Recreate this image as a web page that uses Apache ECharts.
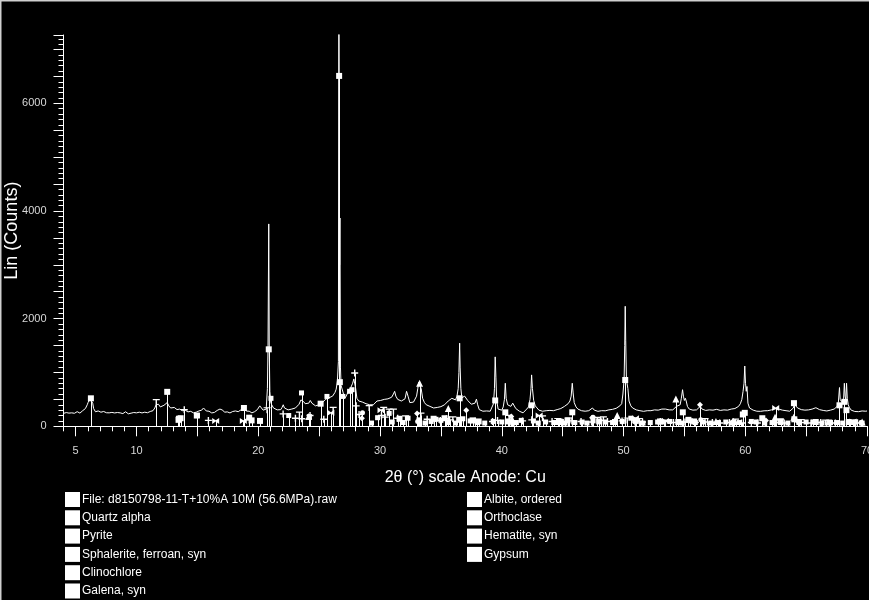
<!DOCTYPE html>
<html>
<head>
<meta charset="utf-8">
<style>
html,body{margin:0;padding:0;background:#000;}
#chart{width:869px;height:600px;}
</style>
<script src="https://cdn.jsdelivr.net/npm/echarts@6/dist/echarts.min.js"></script>
</head>
<body>
<div id="chart"></div>
<script>
// ---- Data ----
const fileName = 'File: d8150798-11-T+10%A 10M (56.6MPa).raw';
const xTickMajor = [5,10,15,20,25,30,35,40,45,50,55,60,65,70];
const xLabels = [5,10,20,30,40,50,60,70];
const yLabels = [0,2000,4000,6000];

// measured scan: [2theta, counts]
const scan = [
[4.000,240],[4.075,262],[4.150,238],[4.225,255],[4.300,230],[4.375,258],[4.450,245],[4.525,268],[4.600,235],[4.675,250],[4.750,232],[4.825,260],[4.900,242],[4.975,266],[5.050,248],[5.125,272],[5.200,250],[5.275,265],[5.350,245],[5.425,275],[5.500,260],[5.575,290],[5.650,282],[5.725,305],[5.800,330],[5.875,365],[5.950,400],[6.025,445],[6.100,470],[6.175,510],[6.250,520],[6.325,495],[6.400,430],[6.475,330],[6.550,300],[6.625,270],[6.700,295],[6.775,262],[6.850,285],[6.925,250],[7.000,276],[7.075,262],[7.150,290],[7.225,255],[7.300,275],[7.375,240],[7.450,268],[7.525,252],[7.600,236],[7.675,262],[7.750,250],[7.825,270],[7.900,245],[7.975,258],[8.050,235],[8.125,262],[8.200,248],[8.275,272],[8.350,240],[8.425,256],[8.500,238],[8.575,266],[8.650,250],[8.725,242],[8.800,268],[8.875,236],[8.950,258],[9.025,245],[9.100,270],[9.175,240],[9.250,255],[9.325,232],[9.400,262],[9.475,250],[9.550,244],[9.625,268],[9.700,238],[9.775,256],[9.850,246],[9.925,272],[10.000,250],[10.075,265],[10.150,240],[10.225,262],[10.300,235],[10.375,258],[10.450,248],[10.525,274],[10.600,244],[10.675,262],[10.750,240],[10.825,266],[10.900,252],[10.975,270],[11.050,248],[11.125,275],[11.200,262],[11.275,282],[11.350,290],
[11.50,340],[11.60,400],[11.70,430],[11.80,410],[11.95,360],[12.10,375],[12.25,390],[12.40,410],[12.52,440],[12.65,380],[12.80,340],[12.95,360],
[13.10,350],[13.175,325],[13.25,340],[13.325,310],[13.40,325],[13.475,300],[13.55,320],[13.625,295],[13.70,310],[13.775,290],[13.85,305],[13.925,282],[14.00,298],[14.075,276],[14.15,290],[14.225,268],[14.30,285],[14.375,262],[14.45,278],[14.525,255],[14.60,280],[14.675,250],[14.75,268],[14.825,248],[14.90,262],[14.975,280],[15.05,258],[15.125,285],[15.20,270],[15.275,295],[15.35,300],[15.425,330],[15.50,340],[15.575,310],[15.65,325],[15.725,285],[15.80,295],[15.875,262],[15.95,280],[16.025,250],[16.10,272],[16.175,248],[16.25,268],[16.325,278],[16.40,258],[16.475,290],[16.55,270],[16.625,295],[16.70,282],[16.775,305],[16.85,320],[16.925,340],[17.00,318],[17.075,300],[17.15,275],[17.225,262],[17.30,278],[17.375,250],[17.45,268],[17.525,245],[17.60,265],[17.675,248],[17.75,270],[17.825,255],[17.90,275],[17.975,252],[18.05,270],[18.125,285],[18.20,265],[18.275,290],[18.35,272],[18.425,298],[18.50,280],[18.575,305],[18.65,295],[18.725,320],[18.80,335],[18.875,318],[18.95,300],[19.025,282],[19.10,290],[19.175,268],[19.25,280],[19.325,255],[19.40,270],[19.475,250],[19.55,262],[19.625,248],[19.70,272],[19.775,265],[19.85,295],[19.925,310],[20.00,335],
[20.12,380],[20.25,350],[20.40,300],[20.55,280],[20.65,320],[20.75,700],[20.80,1500],[20.86,3760],[20.90,1450],[20.95,650],[21.02,450],[21.10,400],[21.25,340],[21.40,320],[21.55,305],[21.70,300],[21.85,310],[21.95,350],[22.05,400],[22.15,340],[22.30,310],[22.45,305],[22.60,315],[22.75,320],[22.90,330],[23.05,340],[23.20,370],[23.35,410],[23.50,490],[23.60,495],[23.72,460],[23.85,420],[24.00,400],[24.15,430],[24.27,480],[24.40,430],[24.55,400],[24.70,380],[24.85,370],[25.00,400],[25.12,435],[25.25,440],[25.40,465],[25.55,505],[25.65,525],[25.80,530],[25.95,545],[26.10,560],[26.20,585],[26.30,630],[26.40,690],[26.50,850],[26.58,1200],[26.62,8400],[26.68,3000],[26.71,3870],[26.75,1100],[26.80,760],[26.90,740],[27.00,600],[27.15,530],[27.30,600],[27.45,680],[27.60,720],[27.75,800],[27.85,880],[27.92,900],[28.00,700],[28.10,520],[28.25,470],[28.40,460],[28.55,450],[28.70,435],[28.85,420],[29.00,410],[29.15,400],[29.30,395],[29.45,400],[29.60,430],[29.75,470],[29.90,460],[30.05,480],[30.20,470],[30.35,500],[30.50,490],[30.65,510],[30.80,505],[30.95,540],[31.10,600],[31.20,650],[31.30,560],[31.45,500],[31.60,480],[31.75,470],[31.90,460],[32.05,510],[32.18,650],[32.30,560],[32.45,440],[32.60,430],[32.75,450],[32.90,470],[33.00,560],[33.10,700],[33.18,820],[33.28,790],[33.38,700],[33.50,520],[33.65,440],[33.80,400],[33.95,380],[34.10,370],[34.25,345],[34.40,340],[34.55,335],[34.70,350],[34.85,370],[35.00,365],[35.15,380],[35.30,400],[35.45,430],[35.60,470],[35.75,480],[35.90,520],[36.05,500],[36.20,490],[36.32,560],[36.42,700],[36.48,1000],[36.54,1545],[36.58,1100],[36.64,700],[36.72,530],[36.85,510],[36.95,560],[37.05,540],[37.20,480],[37.35,450],[37.50,410],[37.65,400],[37.80,430],[37.92,505],[38.02,400],[38.15,310],[38.30,290],[38.45,280],[38.60,275],[38.75,285],[38.90,270],[39.05,280],[39.20,300],[39.32,420],[39.40,700],[39.46,1290],[39.52,900],[39.58,480],[39.70,320],[39.85,285],[40.00,300],[40.12,360],[40.22,500],[40.29,800],[40.36,520],[40.48,400],[40.60,380],[40.75,370],[40.90,430],[41.00,420],[41.15,330],[41.30,300],[41.45,280],[41.60,260],[41.75,250],[41.90,270],[42.05,320],[42.20,360],[42.32,500],[42.40,700],[42.45,955],[42.52,700],[42.62,480],[42.75,380],[42.90,340],[43.05,300],[43.20,285],[43.35,280],[43.50,275],[43.65,290],[43.80,285],[43.95,295],[44.10,300],[44.25,290],[44.40,305],[44.55,310],[44.70,300],[44.85,330],[45.00,340],[45.15,370],[45.30,390],[45.45,420],[45.60,470],[45.70,560],[45.79,800],[45.86,620],[45.95,440],[46.10,360],[46.25,320],[46.40,305],[46.55,290],[46.70,285],[46.85,280],[47.00,278],[47.15,290],[47.30,310],[47.45,340],[47.60,300],[47.75,285],[47.90,278],[48.05,285],[48.20,290],[48.35,295],[48.50,288],[48.65,300],[48.80,305],[48.95,300],[49.10,315],[49.25,320],[49.40,335],[49.55,340],[49.70,380],[49.85,420],[49.95,600],[50.05,870],[50.10,1500],[50.14,2230],[50.18,1600],[50.24,870],[50.30,900],[50.36,700],[50.45,470],[50.60,380],[50.75,340],[50.90,320],[51.05,305],[51.20,295],[51.35,290],[51.50,285],[51.65,278],[51.80,280],[51.95,290],[52.10,295],[52.25,290],[52.40,300],[52.55,305],[52.70,310],[52.85,300],[53.00,315],[53.15,320],[53.30,335],[53.45,320],[53.60,310],[53.75,305],[53.90,295],[54.05,305],[54.20,330],[54.35,370],[54.50,380],[54.65,400],[54.75,520],[54.85,680],[54.92,560],[55.00,480],[55.08,520],[55.15,470],[55.25,370],[55.40,320],[55.55,305],[55.70,300],[55.85,295],[56.00,305],[56.15,330],[56.30,370],[56.45,320],[56.60,300],[56.75,295],[56.90,300],[57.05,305],[57.20,310],[57.35,300],[57.50,307],[57.65,315],[57.80,305],[57.95,295],[58.10,300],[58.25,305],[58.40,310],[58.55,300],[58.70,315],[58.85,320],[59.00,325],[59.15,330],[59.30,345],[59.45,370],[59.60,420],[59.72,500],[59.82,650],[59.90,800],[59.96,1120],[60.02,800],[60.08,650],[60.14,740],[60.22,430],[60.35,340],[60.50,310],[60.65,300],[60.80,285],[60.95,280],[61.10,285],[61.25,278],[61.40,290],[61.55,288],[61.70,295],[61.85,290],[62.00,300],[62.15,305],[62.30,310],[62.45,325],[62.60,340],[62.75,320],[62.90,305],[63.05,300],[63.20,295],[63.35,290],[63.50,285],[63.65,280],[63.80,300],[63.95,340],[64.05,430],[64.15,380],[64.30,340],[64.45,320],[64.60,310],[64.75,305],[64.90,300],[65.05,310],[65.20,305],[65.35,315],[65.50,320],[65.65,330],[65.80,345],[65.95,320],[66.10,310],[66.25,300],[66.40,295],[66.55,290],[66.70,285],[66.85,290],[67.00,300],[67.15,310],[67.30,320],[67.45,340],[67.55,370],[67.65,450],[67.74,720],[67.80,500],[67.90,460],[68.00,480],[68.08,520],[68.14,800],[68.20,560],[68.26,500],[68.32,800],[68.38,520],[68.46,400],[68.55,350],[68.70,300],[68.85,280],[69.00,275],[69.15,278],[69.30,272],[69.45,280],[69.60,285],[69.75,288],[69.90,280],[70.00,285]
];

// reference sticks per phase: [2theta, height]
const quartzSticks = [[20.86,1430],[26.64,6510],[26.70,820],[36.54,520],[39.46,480],[40.29,260],[42.45,390],[45.79,260],[50.14,860],[54.87,260],[55.33,120],[59.96,250],[64.03,130],[65.79,80],[67.74,390],[68.14,455],[68.31,300]];
const pyriteSticks = [[28.51,150],[33.04,240],[37.08,300],[40.78,180],[47.42,160],[56.28,400],[59.02,100],[61.70,110],[64.30,90]];
const sphaleriteSticks = [[28.56,250],[33.09,90],[47.50,170],[56.35,120],[59.10,60],[69.50,70]];
const clinochloreSticks = [[6.25,520],[12.52,640],[13.45,120],[13.62,150],[14.95,200],[18.82,340],[19.25,160],[19.45,110],[20.14,100],[25.12,420],[31.60,140],[34.40,140],[35.30,150],[36.50,120],[37.60,110],[38.10,90],[40.50,90],[44.70,80],[45.40,110],[48.00,90],[49.30,80],[51.00,100],[53.00,90],[54.50,80],[55.80,90],[59.80,220],[61.40,150],[62.90,90],[64.00,430],[66.90,70],[68.50,80]];
const galenaSticks = [[16.50,100],[18.77,100],[25.96,250],[30.08,300],[43.07,200],[50.98,150],[53.44,100],[62.50,338],[68.85,90]];
const albiteSticks = [[13.92,307],[15.90,110],[22.04,230],[23.05,150],[23.57,140],[24.25,200],[25.38,130],[27.92,990],[28.04,380],[28.28,220],[30.12,200],[30.42,170],[31.45,150],[33.87,130],[34.95,110],[35.45,140],[35.71,120],[36.68,110],[37.83,100],[39.24,90],[39.65,110],[41.71,100],[42.47,120],[44.13,90],[44.93,80],[45.76,100],[46.51,90],[47.38,80],[48.12,110],[48.68,90],[49.88,100],[50.94,80],[51.32,90],[51.56,80],[53.02,90],[54.10,70],[55.05,80],[55.90,70],[56.90,80],[57.30,70],[57.90,60],[58.70,70],[59.70,60],[60.50,70],[61.00,60],[62.40,70],[63.20,60],[64.60,70],[65.40,60],[66.20,70],[67.40,60],[68.60,70],[69.20,60]];
const orthoclaseSticks = [[13.44,150],[15.00,200],[21.04,520],[22.50,200],[23.55,620],[24.20,180],[25.64,555],[26.95,555],[27.50,650],[27.70,680],[29.30,60],[29.80,160],[30.75,240],[31.00,80],[31.90,70],[32.30,150],[33.20,120],[33.70,60],[34.20,90],[34.60,130],[35.00,110],[35.60,70],[36.20,60],[36.80,140],[37.40,100],[38.00,70],[38.60,60],[39.30,90],[40.00,80],[40.90,60],[41.20,70],[41.60,110],[42.60,100],[43.00,60],[43.60,80],[44.30,70],[44.90,90],[45.20,60],[46.00,70],[46.60,80],[47.00,60],[47.50,100],[48.50,80],[49.10,70],[49.90,90],[50.60,150],[51.00,120],[51.60,60],[52.20,70],[52.80,80],[53.30,80],[53.80,90],[54.80,60],[55.50,100],[55.90,70],[56.50,80],[57.20,60],[57.80,70],[58.40,80],[58.90,60],[59.50,70],[60.50,90],[60.90,80],[61.60,60],[62.20,70],[62.90,70],[63.50,60],[64.40,70],[65.00,80],[65.60,80],[66.30,60],[67.00,70],[67.50,70],[68.00,60],[68.90,70],[69.00,80],[69.60,60]];
const hematiteSticks = [[24.14,180],[33.25,800],[35.61,330],[40.85,130],[49.48,200],[54.30,505],[57.59,90],[62.45,170],[63.99,170],[69.60,80]];
const gypsumSticks = [[11.62,450],[20.72,300],[23.38,220],[26.15,307],[29.11,338],[30.30,307],[30.75,276],[31.10,276],[32.10,150],[33.36,200],[35.98,130],[40.60,160],[43.35,150],[44.60,100],[45.50,110],[47.85,120],[48.35,130],[50.30,110],[51.30,100],[56.70,100],[59.20,90],[62.90,90],[64.60,80],[66.60,70],[69.00,70]];

// ---- Chart ----
const W = '#ffffff';
const SYM = {
  square: 'rect',
  cross: 'path://M4,0H6V4H10V6H6V10H4V6H0V4H4Z',
  tee: 'path://M0,0H10V2H6V10H4V2H0Z',
  tri: 'triangle',
  bow: 'path://M0,0L5,4L10,0V10L5,6L0,10Z',
  dia: 'diamond',
  circ: 'circle'
};
function stickRender(params, api) {
  const top = api.coord([api.value(0), api.value(1)]);
  const base = api.coord([api.value(0), 0]);
  const x = Math.round(top[0]) + 0.5;
  return {type:'line', shape:{x1:x, y1:base[1], x2:x, y2:top[1]}, style:{stroke:W, lineWidth:1}};
}
function sticks(name, data, symbol, size) {
  return [
    {type:'custom', name:name, data:data, renderItem:stickRender, encode:{x:0, y:1}, itemStyle:{color:W}, silent:true, animation:false, z:2},
    {type:'scatter', name:name, data:data, symbol:symbol, symbolSize:size, itemStyle:{color:W, opacity:1}, silent:true, animation:false, z:3}
  ];
}
const phases = [
  ['Quartz alpha', quartzSticks, SYM.square, 6],
  ['Pyrite', pyriteSticks, SYM.dia, 6],
  ['Sphalerite, ferroan, syn', sphaleriteSticks, SYM.circ, 5],
  ['Clinochlore', clinochloreSticks, SYM.square, 6],
  ['Galena, syn', galenaSticks, SYM.bow, [7,6]],
  ['Albite, ordered', albiteSticks, SYM.cross, 7],
  ['Orthoclase', orthoclaseSticks, SYM.square, 5],
  ['Hematite, syn', hematiteSticks, SYM.tri, 7],
  ['Gypsum', gypsumSticks, SYM.tee, [7,6]]
];
let series = [{
  type:'line', name:fileName, data:scan, showSymbol:false, symbol:'none',
  lineStyle:{color:W, width:1}, itemStyle:{color:W}, clip:true, animation:false, z:4, silent:true
}];
phases.forEach(p => { series = series.concat(sticks(p[0], p[1], p[2], p[3])); });

const font = 'Arial, "Liberation Sans", sans-serif';
const legendCommon = {
  orient:'vertical', icon:'rect', itemWidth:15, itemHeight:15, itemGap:3.3, padding:0,
  selectedMode:false, itemStyle:{color:W, borderWidth:0},
  textStyle:{color:W, fontSize:12, fontFamily:font, padding:[4,0,0,-3]}
};
const chart = echarts.init(document.getElementById('chart'), null, {renderer:'canvas'});
chart.setOption({
  backgroundColor:'#000',
  animation:false,
  color:[W],
  grid:{left:63.5, right:2, top:35, bottom:173.7, containLabel:false, outerBoundsMode:'none'},
  legend:[
    Object.assign({left:65, top:492, height:108, data:[fileName,'Quartz alpha','Pyrite','Sphalerite, ferroan, syn','Clinochlore','Galena, syn']}, legendCommon),
    Object.assign({left:467, top:492, height:108, data:['Albite, ordered','Orthoclase','Hematite, syn','Gypsum']}, legendCommon)
  ],
  xAxis:[{
    type:'value', min:4, max:70, position:'bottom',
    name:'2θ (°) scale Anode: Cu', nameLocation:'middle', nameGap:43, nameMoveOverlap:false,
    nameTextStyle:{color:W, fontSize:16, fontFamily:font},
    axisLine:{show:true, lineStyle:{color:W, width:1}},
    axisTick:{show:true, customValues:xTickMajor, length:10, lineStyle:{color:W}},
    axisLabel:{customValues:xLabels, color:'#d8d8d8', fontSize:11, fontFamily:font, margin:19, formatter:v => String(v)},
    splitLine:{show:false}
  },{
    type:'value', min:4, max:70, interval:1, position:'bottom', offset:0,
    axisLine:{show:false}, axisLabel:{show:false},
    axisTick:{show:true, length:5, lineStyle:{color:W}},
    splitLine:{show:false}
  }],
  yAxis:{
    type:'value', min:0, max:7270, interval:500,
    name:'Lin (Counts)', nameLocation:'middle', nameGap:42, nameRotate:90, nameMoveOverlap:false,
    nameTextStyle:{color:W, fontSize:18, fontFamily:font},
    axisLine:{show:true, lineStyle:{color:W, width:1}},
    axisTick:{show:true, length:10, lineStyle:{color:W}},
    minorTick:{show:true, splitNumber:5, length:5, lineStyle:{color:W}},
    axisLabel:{customValues:yLabels, color:'#d8d8d8', fontSize:11, fontFamily:font, margin:17, formatter:v => String(v)},
    splitLine:{show:false}, minorSplitLine:{show:false}
  },
  graphic:[
    {type:'rect', shape:{x:0, y:0, width:869, height:1.5}, style:{fill:'#cfcfcf'}, silent:true},
    {type:'rect', shape:{x:0, y:0, width:1.5, height:600}, style:{fill:'#cfcfcf'}, silent:true}
  ],
  series:series
});
</script>
</body>
</html>
